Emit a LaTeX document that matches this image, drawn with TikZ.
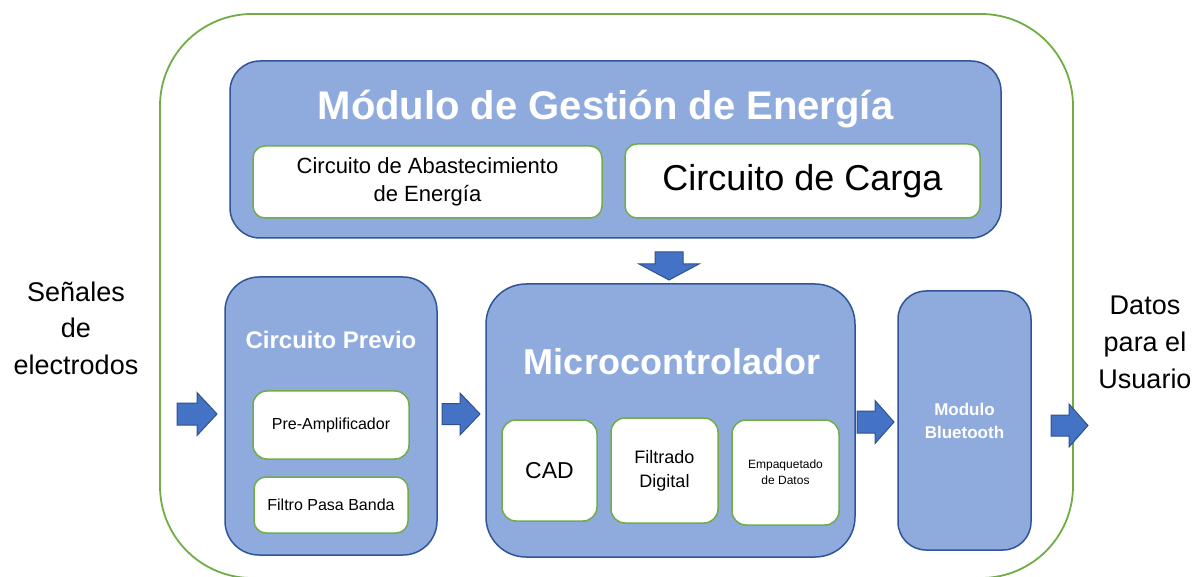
\documentclass[tikz,border=0pt]{standalone}
\usepackage{fontspec}
\setmainfont{Liberation Sans}
\definecolor{lblue}{HTML}{8FAADC}
\definecolor{bborder}{HTML}{2F5597}
\definecolor{afill}{HTML}{4472C4}
\definecolor{aborder}{HTML}{2F528F}
\definecolor{gline}{HTML}{70AD47}
\newcommand{\fs}[2]{\fontsize{#1}{#2}\selectfont}
\tikzset{
  bluebox/.style={draw=bborder, fill=lblue, line width=1.5pt, inner sep=0pt},
  whitebox/.style={draw=gline, fill=white, line width=1.5pt, inner sep=0pt, align=center, text=black},
  title/.style={text=white, font=\bfseries, inner sep=0pt, anchor=base},
  outertext/.style={text=black, align=center, inner sep=0pt},
  blockarrow/.style={draw=aborder, fill=afill, line width=1pt, line join=miter},
}
\begin{document}
\begin{tikzpicture}[x=1pt, y=-1pt]
\useasboundingbox (0,0) rectangle (1200,577);
% outer system boundary
\node[draw=gline, line width=1.8pt, rounded corners=92pt, minimum width=913pt, minimum height=564pt, inner sep=0pt] (system) at (616.5,296) {};

% energy management module
\node[bluebox, rounded corners=30pt, minimum width=771pt, minimum height=177pt] (energy) at (615.5,149.5) {};
\node[title, font=\bfseries\fs{40}{46}] (energytitle) at (605.5,120) {Módulo de Gestión de Energía};
\node[whitebox, rounded corners=12pt, minimum width=349pt, minimum height=72pt, font=\fs{22}{28}] (abast) at (427.5,182) {Circuito de Abastecimiento\\de Energía};
\node[whitebox, rounded corners=12pt, minimum width=355pt, minimum height=74pt, font=\fs{36}{42}] (carga) at (802.5,181) {Circuito de Carga};

% pre circuit
\node[bluebox, rounded corners=34pt, minimum width=212pt, minimum height=278pt] (previo) at (331,416) {};
\node[title, font=\bfseries\fs{24}{28}] (previotitle) at (331,349) {Circuito Previo};
\node[whitebox, rounded corners=14pt, minimum width=156pt, minimum height=68pt, font=\fs{16}{20}] (preamp) at (331,425) {Pre-Amplificador};
\node[whitebox, rounded corners=12pt, minimum width=154pt, minimum height=56pt, font=\fs{16}{20}] (filtro) at (331,505) {Filtro Pasa Banda};

% microcontroller
\node[bluebox, rounded corners=40pt, minimum width=369pt, minimum height=273pt] (micro) at (670.5,420.5) {};
\node[title, font=\bfseries\fs{36}{42}] (microtitle) at (672,374) {Microcontrolador};
\node[whitebox, rounded corners=14pt, minimum width=95pt, minimum height=101pt, font=\fs{23}{28}] (cad) at (549.5,470.5) {CAD};
\node[whitebox, rounded corners=14pt, minimum width=107pt, minimum height=105pt, font=\fs{18}{24}] (filtrado) at (664.5,470.5) {Filtrado\\Digital};
\node[whitebox, rounded corners=14pt, minimum width=107pt, minimum height=105pt, font=\fs{12}{16}] (empaq) at (785.5,472.5) {Empaquetado\\de Datos};

% bluetooth
\node[bluebox, rounded corners=28pt, minimum width=133pt, minimum height=259pt, text=white, align=center, font=\bfseries\fs{17}{23}] (bt) at (964.5,420.5) {Modulo\\Bluetooth};

% outer labels
\node[outertext, font=\fs{27}{36.5}] (input) at (76,328) {Señales\\de\\electrodos};
\node[outertext, font=\fs{27}{37}] (output) at (1145,342) {Datos\\para el\\Usuario};

% block arrows
\draw[blockarrow] (177,403) -- (197,403) -- (197,392.5) -- (217,414) -- (197,435.5) -- (197,425) -- (177,425) -- cycle;
\draw[blockarrow] (442,403.5) -- (460,403.5) -- (460,393) -- (480,414) -- (460,435) -- (460,424.5) -- (442,424.5) -- cycle;
\draw[blockarrow] (857,411) -- (875,411) -- (875,400.5) -- (894,422) -- (875,443.5) -- (875,433) -- (857,433) -- cycle;
\draw[blockarrow] (1051,415) -- (1069,415) -- (1069,404) -- (1088,425.5) -- (1069,447) -- (1069,436) -- (1051,436) -- cycle;
\draw[blockarrow] (655,252) -- (683,252) -- (683,264) -- (699,264) -- (669,280) -- (639,264) -- (655,264) -- cycle;
\end{tikzpicture}
\end{document}
